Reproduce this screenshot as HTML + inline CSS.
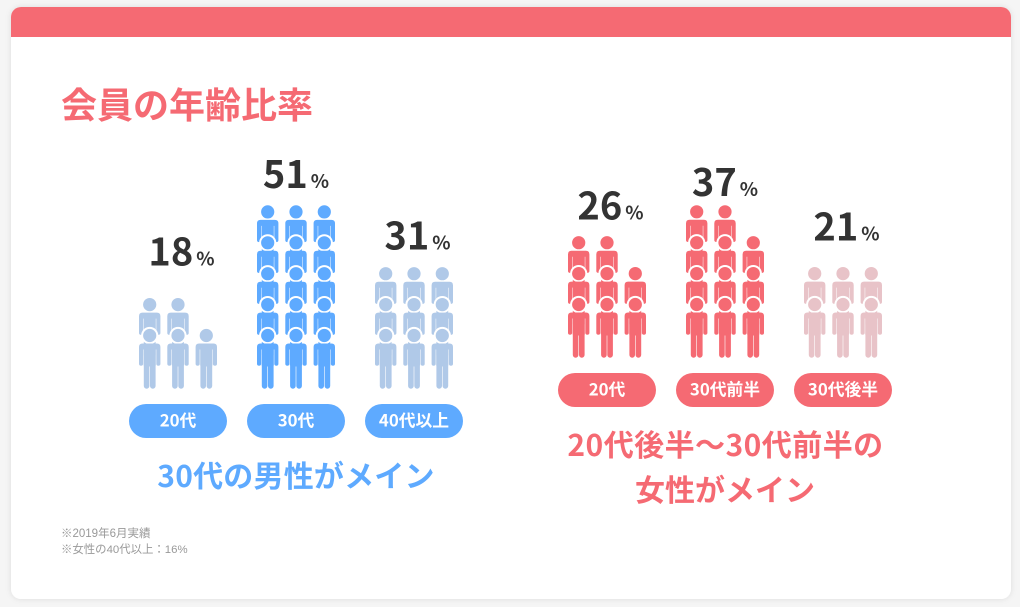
<!DOCTYPE html>
<html lang="ja">
<head>
<meta charset="utf-8">
<title>会員の年齢比率</title>
<style>
  html, body { margin: 0; padding: 0; background: #f5f5f5; }
  body { width: 1020px; height: 607px; overflow: hidden; }
  svg { display: block; font-family: "Liberation Sans", "Noto Sans CJK JP", sans-serif; }
  .cjk { font-family: "Noto Sans CJK JP", "Liberation Sans", sans-serif; font-weight: 700; }
</style>
</head>
<body>
<svg id="chart" xmlns="http://www.w3.org/2000/svg" width="1020" height="607" viewBox="0 0 1020 607">
  <defs>
    <filter id="card-shadow" x="-5%" y="-5%" width="110%" height="110%">
      <feDropShadow dx="0" dy="0" stdDeviation="3" flood-color="#000" flood-opacity="0.1"/>
    </filter>
    <clipPath id="card-clip"><rect x="11" y="7" width="1000" height="592" rx="10"/></clipPath>
  </defs>
  <rect x="11" y="7" width="1000" height="592" rx="10" fill="#fff" filter="url(#card-shadow)"/>
  <rect x="11" y="7" width="1000" height="30" fill="#f56a73" clip-path="url(#card-clip)"/>
  <text class="cjk" x="61" y="118" font-size="36" fill="#f56a73">会員の年齢比率</text>
  <g id="marks"></g>
  <text class="cjk" x="296" y="487" font-size="30" letter-spacing="0.2" fill="#5eaaff" text-anchor="middle">30代の男性がメイン</text>
  <text class="cjk" x="725.5" y="456" font-size="30" letter-spacing="0.45" fill="#f56a73" text-anchor="middle">20代後半〜30代前半の</text>
  <text class="cjk" x="725" y="501" font-size="30" fill="#f56a73" text-anchor="middle">女性がメイン</text>
  <text x="61" y="537" font-size="11.5" fill="#999">※2019年6月実績</text>
  <text x="61" y="553" font-size="11.4" fill="#999">※女性の40代以上：16%</text>
</svg>
<script>
const categories = ["20代", "30代", "40代以上", "20代", "30代前半", "30代後半"];
const genders = ["male", "male", "male", "female", "female", "female"];
const percentValues = [18, 51, 31, 26, 37, 21];
const percentPerIcon = 3.4;

const SVG_NS = "http://www.w3.org/2000/svg";
const marks = document.getElementById("marks");
const groupCenters = [178, 296, 414, 607, 725, 843];
const labelCenterShift = [3.5, 0, 3.5, 3.5, 0, 3.5];
const colours = ["#b0c9e8", "#5eaaff", "#b0c9e8", "#f56a73", "#f56a73", "#e8c3c8"];
const labelLift = [39, 24, 24, 23, 16, 33];
const baseHeadY = { male: 335.5, female: 304.5 };
const pillTop = { male: 404, female: 373 };
const COL = 28.3, ROW = 30.9, PER_ROW = 3;

function make(tag, attrs, parent) {
  const el = document.createElementNS(SVG_NS, tag);
  for (const k in attrs) el.setAttribute(k, attrs[k]);
  parent.appendChild(el);
  return el;
}
function iconCount(v) { return Math.round(v / percentPerIcon); }
function colX(center, c) { return center + (c - 1) * COL; }
function rowY(gender, r) { return baseHeadY[gender] - r * ROW; }

const bodyPath = "M-10.7,11.5 Q-10.7,8 -7.2,8 H7.2 Q10.7,8 10.7,11.5 V28.6 A2.1,2.1 0 0 1 6.6,28.6 V14 H6.1 V30 H5.9 V50.4 A2.7,2.7 0 0 1 0.3,50.4 V31 H-0.3 V50.4 A2.7,2.7 0 0 1 -5.9,50.4 V30 H-6.1 V14 H-6.6 V28.6 A2.1,2.1 0 0 1 -10.7,28.6 Z";

function drawPerson(parent, x, y, colour) {
  const person = make("g", { transform: "translate(" + x + "," + y + ")" }, parent);
  
  
  make("circle", { cx: 0, cy: 0, r: 8.6, fill: "#fff" }, person);
  make("circle", { cx: 0, cy: 0, r: 6.6, fill: colour }, person);
  make("path", { d: bodyPath, fill: colour }, person);
}

percentValues.forEach(function (value, i) {
  const gender = genders[i];
  const center = groupCenters[i];
  const colour = colours[i];
  const group = make("g", {}, marks);
  
  

  const count = iconCount(value);
  const rows = Math.ceil(count / PER_ROW);
  for (let r = rows - 1; r >= 0; r--) {
    const inRow = r === rows - 1 ? count - (rows - 1) * PER_ROW : PER_ROW;
    for (let c = 0; c < inRow; c++) {
      drawPerson(group, colX(center, c), rowY(gender, r), colour);
    }
  }

  const topHead = rowY(gender, rows - 1);
  const label = make("text", { x: center + labelCenterShift[i], y: topHead - labelLift[i], "text-anchor": "middle", fill: "#333", class: "cjk" }, group);
  
  
  const num = make("tspan", { "font-size": 38 }, label);
  num.textContent = String(value);
  const pct = make("tspan", { "font-size": 19, dx: 3 }, label);
  pct.textContent = "%";

  const pillY = pillTop[gender];
  const pill = make("rect", { x: center - 49, y: pillY, width: 98, height: 34, rx: 17, fill: gender === "male" ? "#5eaaff" : "#f56a73" }, group);
  
  
  const pillText = make("text", { x: center, y: pillY + 22.5, "text-anchor": "middle", "font-size": 16.8, fill: "#fff", class: "cjk" }, group);
  
  
  pillText.textContent = categories[i];
});
</script>
</body>
</html>
